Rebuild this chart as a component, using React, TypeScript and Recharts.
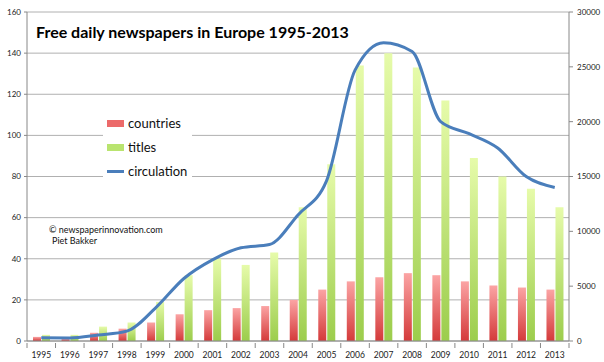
import { Bar, CartesianGrid, ComposedChart, Line, XAxis, YAxis } from "recharts"

const years = ["1995", "1996", "1997", "1998", "1999", "2000", "2001", "2002", "2003", "2004", "2005", "2006", "2007", "2008", "2009", "2010", "2011", "2012", "2013"]
const countries = [2, 1, 4, 6, 9, 13, 15, 16, 17, 20, 25, 29, 31, 33, 32, 29, 27, 26, 25]
const titles = [3, 3, 7, 9, 19, 32, 40, 37, 43, 65, 86, 134, 140, 133, 117, 89, 80, 74, 65]
const circulation = [300, 280, 550, 900, 3000, 5700, 7400, 8500, 8800, 11500, 14600, 24700, 27200, 26400, 20000, 18900, 17600, 15000, 14000]
const leftTicks = [0, 20, 40, 60, 80, 100, 120, 140, 160]
const rightTicks = [0, 5000, 10000, 15000, 20000, 25000, 30000]

const data = years.map((year, i) => ({
  year,
  countries: countries[i],
  titles: titles[i],
  circulation: circulation[i],
}))

const W = 604
const H = 362
const M = { top: 12, right: 0, bottom: 0, left: 0 }
const LEFT_W = 27
const RIGHT_W = 35
const band = (W - LEFT_W - RIGHT_W) / years.length

const font = "Lato, 'Open Sans', sans-serif"

function YearTick(props: any) {
  const { x, y, payload, index } = props
  return (
    <g>
      <line x1={x - band / 2} y1={y - 6} x2={x - band / 2} y2={y - 1} stroke="#888" />
      {index === years.length - 1 && (
        <line x1={x + band / 2} y1={y - 6} x2={x + band / 2} y2={y - 1} stroke="#888" />
      )}
      <text x={x} y={y + 9} textAnchor="middle" fontSize={8.5} fill="#222" fontFamily={font}>
        {payload.value}
      </text>
    </g>
  )
}

const legendItems = [
  { name: "countries", kind: "bar", color: "#ec6a6a" },
  { name: "titles", kind: "bar", color: "#b9e46f" },
  { name: "circulation", kind: "line", color: "#4a7ebb" },
]

function LegendBox() {
  return (
    <div
      style={{
        position: "absolute",
        left: 103,
        top: 111,
        background: "#fff",
        width: 89,
        fontFamily: font,
      }}
    >
      {legendItems.map((it) => (
        <div key={it.name} style={{ display: "flex", alignItems: "center", height: 24 }}>
          <span
            style={{
              display: "inline-block",
              width: 17,
              height: it.kind === "bar" ? 7 : 3,
              marginLeft: 4,
              marginRight: 4,
              background: it.color,
            }}
          />
          <span style={{ fontSize: 13, color: "#111" }}>{it.name}</span>
        </div>
      ))}
    </div>
  )
}

export default function App() {
  return (
    <div style={{ position: "absolute", left: 0, top: 0, width: W, height: H, background: "#fff" }}>
      <ComposedChart width={W} height={H} data={data} margin={M} barCategoryGap="20%" barGap={1}>
        <defs>
          <linearGradient id="redGrad" x1="0" y1="0" x2="0" y2="1">
            <stop offset="0%" stopColor="#fba4a4" />
            <stop offset="100%" stopColor="#d43a3a" />
          </linearGradient>
          <linearGradient id="greenGrad" x1="0" y1="0" x2="0" y2="1">
            <stop offset="0%" stopColor="#e6fbaa" />
            <stop offset="100%" stopColor="#9ccd4c" />
          </linearGradient>
        </defs>
        <CartesianGrid vertical={false} stroke="#b0b0b0" yAxisId="left" />
        <XAxis
          dataKey="year"
          height={21}
          stroke="#888"
          tickLine={false}
          tick={<YearTick />}
          interval={0}
        />
        <YAxis
          yAxisId="left"
          width={LEFT_W}
          domain={[0, 160]}
          ticks={leftTicks}
          stroke="#888"
          tickSize={3}
          tickMargin={3}
          tick={{ fontSize: 8, fill: "#222", fontFamily: font }}
        />
        <YAxis
          yAxisId="right"
          orientation="right"
          width={RIGHT_W}
          domain={[0, 30000]}
          ticks={rightTicks}
          stroke="#888"
          tickSize={4}
          tickMargin={4}
          tick={{ fontSize: 8, fill: "#222", fontFamily: font, textAnchor: "start" }}
        />
        <Bar yAxisId="left" dataKey="countries" fill="url(#redGrad)" barSize={8} isAnimationActive={false} />
        <Bar yAxisId="left" dataKey="titles" fill="url(#greenGrad)" barSize={8} isAnimationActive={false} />
        <Line
          yAxisId="right"
          type="monotone"
          dataKey="circulation"
          stroke="#4a7ebb"
          strokeWidth={3}
          dot={false}
          isAnimationActive={false}
        />
      </ComposedChart>
      <LegendBox />
      <div
        style={{
          position: "absolute",
          left: 36,
          top: 22,
          fontFamily: font,
          fontWeight: 700,
          fontSize: 16,
          color: "#000",
          whiteSpace: "nowrap",
        }}
      >
        Free daily newspapers in Europe 1995-2013
      </div>
      <div
        style={{
          position: "absolute",
          left: 49,
          top: 224,
          fontFamily: font,
          fontSize: 9,
          lineHeight: "11px",
          color: "#111",
          whiteSpace: "nowrap",
        }}
      >
        <div>© newspaperinnovation.com</div>
        <div style={{ paddingLeft: 3 }}>Piet Bakker</div>
      </div>
    </div>
  )
}
